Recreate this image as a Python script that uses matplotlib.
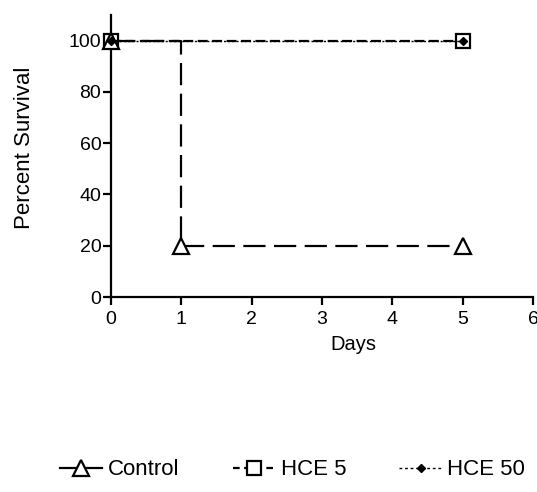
import matplotlib
matplotlib.use("Agg")
import matplotlib.pyplot as plt

plt.rcParams['font.family'] = ['Liberation Sans', 'DejaVu Sans']

# survival data
control_days = [0, 1, 5]
control_surv = [100, 20, 20]
hce5_days = [0, 5]
hce5_surv = [100, 100]
hce50_days = [0, 5]
hce50_surv = [100, 100]

xticks = [0, 1, 2, 3, 4, 5, 6]
yticks = [0, 20, 40, 60, 80, 100]

fig = plt.figure(figsize=(5.37, 4.92), dpi=100)
ax = fig.add_axes([0.2067, 0.3963, 0.786, 0.5732])

ax.plot(control_days, control_surv, drawstyle='steps-post', color='black',
        lw=1.6, dashes=(10, 3.8), marker='^', ms=11, mfc='white', mew=1.6,
        clip_on=False, zorder=3)
ax.plot(hce5_days, hce5_surv, drawstyle='steps-post', color='black',
        lw=1.6, dashes=(4.5, 2), marker='s', ms=10.5, mfc='white', mew=1.6,
        clip_on=False, zorder=2)
ax.plot(hce50_days, hce50_surv, drawstyle='steps-post', color='black',
        lw=1.0, dashes=(1.5, 1.5), marker='D', ms=4.5, mfc='black',
        clip_on=False, zorder=4)

# legend handles (solid / dashed / dotted like the original)
h1, = ax.plot([], [], color='black', lw=1.6, marker='^', ms=11, mfc='white', mew=1.6)
h2, = ax.plot([], [], color='black', lw=1.6, dashes=(3, 2), marker='s', ms=10.5, mfc='white', mew=1.6)
h3, = ax.plot([], [], color='black', lw=1.0, dashes=(2, 2), marker='D', ms=4.5, mfc='black')
fig.legend([h1, h2, h3], ['Control', 'HCE 5', 'HCE 50'], loc='center',
           bbox_to_anchor=(0.545, 0.045), ncol=3, frameon=False,
           handlelength=1.9, handletextpad=0.25, columnspacing=2.4, fontsize=16)

ax.set_xlim(0, 6)
ax.set_ylim(0, 110)
ax.set_xticks(xticks)
ax.set_yticks(yticks)
ax.spines['top'].set_visible(False)
ax.spines['right'].set_visible(False)
for s in ['left', 'bottom']:
    ax.spines[s].set_linewidth(1.6)
ax.tick_params(width=1.6, length=6, direction='out', pad=1, labelsize=14)
ax.tick_params(axis='x', pad=4)

ax.set_xlabel('Days', fontsize=14.5)
ax.xaxis.set_label_coords(0.575, -0.135)
ax.set_ylabel('Percent Survival', fontsize=16)
ax.yaxis.set_label_coords(-0.18, 0.53)

fig.savefig('out.png', dpi=100)
